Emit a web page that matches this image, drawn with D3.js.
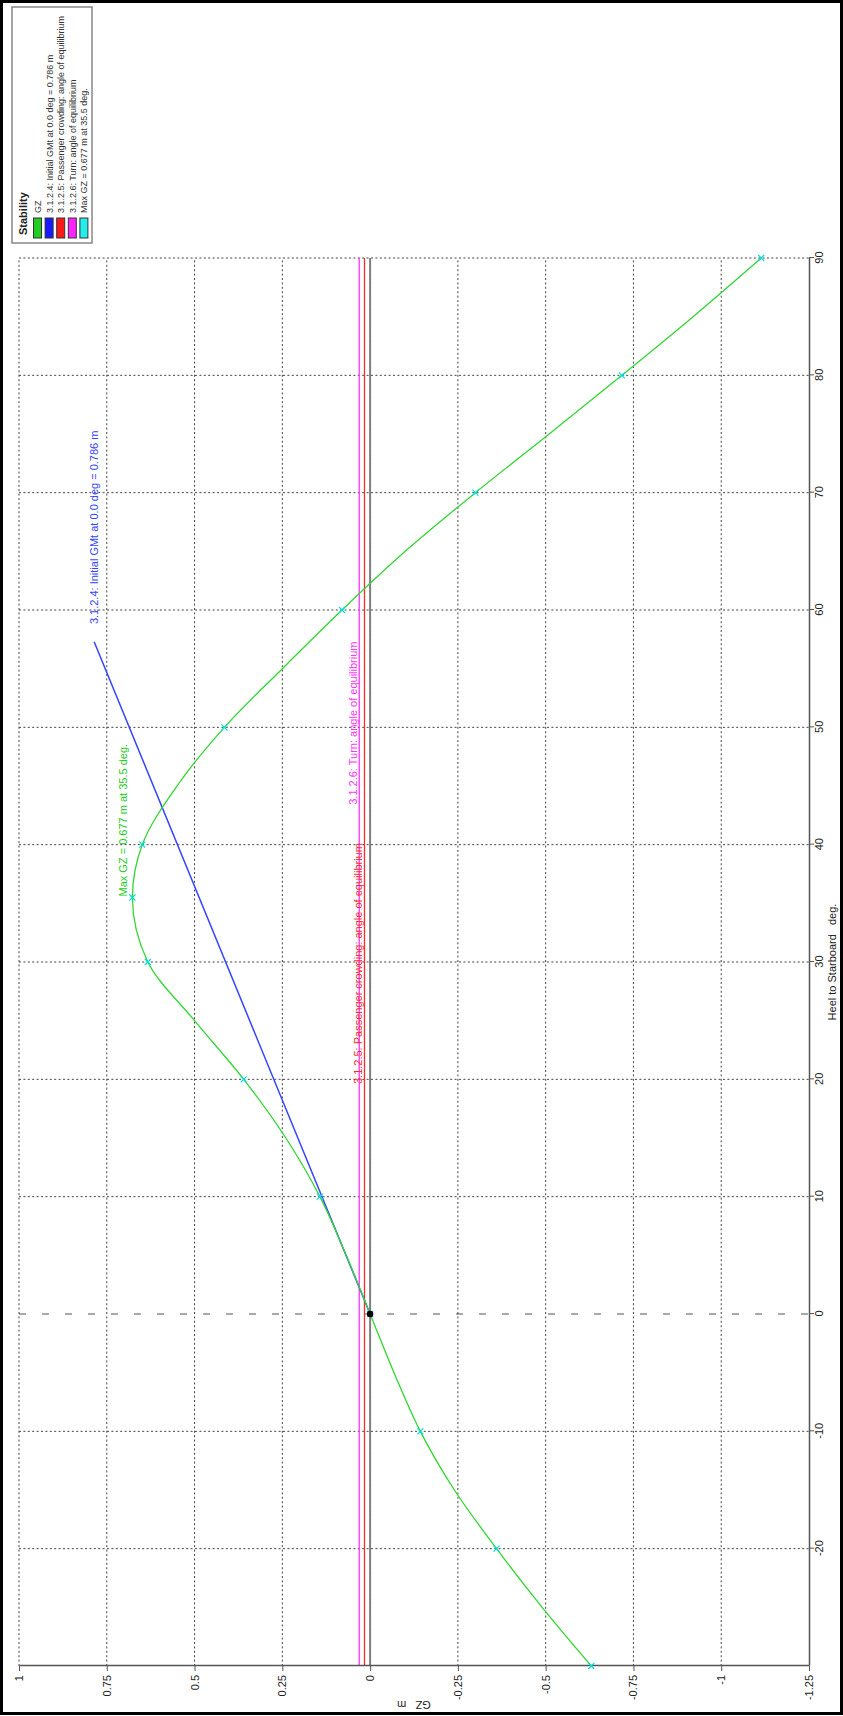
<!DOCTYPE html>
<html><head><meta charset="utf-8">
<script src="https://cdn.jsdelivr.net/npm/d3@7"></script>
<style>
body{margin:0;background:#fff}
svg{display:block}
text{font-family:Arial,"Liberation Sans",sans-serif}
</style>
</head><body><div id="chart"></div>
<script>
// ---- data ----
const heelTicks = [-20,-10,0,10,20,30,40,50,60,70,80,90];
const heelTickLabels = ["-20","-10","0","10","20","30","40","50","60","70","80","90"];
const gzTicks = [1,0.75,0.5,0.25,0,-0.25,-0.5,-0.75,-1,-1.25];
const gzTickLabels = ["1","0.75","0.5","0.25","0","-0.25","-0.5","-0.75","-1","-1.25"];

const heelDeg = [-30,-25,-20,-15,-10,-5,0,5,10,15,20,25,30,35.5,40,45,50,55,60,65,70,75,80,85,90];
const gzValues = [-0.63,-0.49,-0.36,-0.24,-0.143,-0.068,0,0.068,0.143,0.24,0.36,0.50,0.633,0.677,0.649,0.55,0.415,0.25,0.08,-0.10,-0.30,-0.51,-0.717,-0.92,-1.114];

const markerHeel = [-30,-20,-10,0,10,20,30,40,50,60,70,80,90];

const gmHeel = [0,57.3];
const gmGZ = [0,0.786];
const passengerArm = 0.016;
const turnArm = 0.031;
const maxPoint = [35.5,0.677];

const legendLabels = ["GZ","3.1.2.4: Initial GMt at 0.0 deg = 0.786 m","3.1.2.5: Passenger crowding: angle of equilibrium","3.1.2.6: Turn: angle of equilibrium","Max GZ = 0.677 m at 35.5 deg."];
const legendColors = ["#22cc22","#1a1aff","#ff1a1a","#ff22ff","#22eeee"];

// ---- drawing ----
const PW = 843, PH = 1716;
const svg = d3.select("#chart").append("svg").attr("width",PW).attr("height",PH);
svg.append("rect").attr("width",PW).attr("height",PH).attr("fill","#fff");

// chart is drawn in landscape, then rotated -90deg
const g = svg.append("g").attr("transform",`translate(0,${PH}) rotate(-90)`);

const x = d3.scaleLinear().domain([-30,90]).range([50,1458]);
const y = d3.scaleLinear().domain([-1.25,1]).range([809,19]);

// grid
g.selectAll(".vg").data(heelTicks.filter(d=>d!==0)).join("line")
  .attr("x1",d=>x(d)).attr("x2",d=>x(d)).attr("y1",y(1)).attr("y2",y(-1.25))
  .attr("stroke","#444").attr("stroke-width",1).attr("stroke-dasharray","2,2.4");
g.append("line").attr("x1",x(0)).attr("x2",x(0)).attr("y1",y(1)).attr("y2",y(-1.25))
  .attr("stroke","#555").attr("stroke-width",1.2).attr("stroke-dasharray","7,16");
g.selectAll(".hg").data(gzTicks.filter(d=>d!==-1.25)).join("line")
  .attr("x1",x(-30)).attr("x2",x(90)).attr("y1",d=>y(d)).attr("y2",d=>y(d))
  .attr("stroke","#444").attr("stroke-width",1).attr("stroke-dasharray","2,2.4");

// zero line and heeling arms
g.append("line").attr("x1",x(-30)).attr("x2",x(90)).attr("y1",y(0)).attr("y2",y(0))
  .attr("stroke","#808080").attr("stroke-width",2);
g.append("line").attr("x1",x(-30)).attr("x2",x(90)).attr("y1",y(passengerArm)).attr("y2",y(passengerArm))
  .attr("stroke","#ff2a2a").attr("stroke-width",1.3);
g.append("line").attr("x1",x(-30)).attr("x2",x(90)).attr("y1",y(turnArm)).attr("y2",y(turnArm))
  .attr("stroke","#ff33ff").attr("stroke-width",1.3);

// axes
const xAxis = d3.axisBottom(x).tickValues(heelTicks).tickSize(5).tickSizeOuter(0).tickPadding(1)
  .tickFormat((d,i)=>heelTickLabels[i]);
const xa = g.append("g").attr("transform",`translate(0,${y(-1.25)})`).call(xAxis);
const yAxis = d3.axisLeft(y).tickValues(gzTicks).tickSize(5).tickSizeOuter(0).tickPadding(4)
  .tickFormat((d,i)=>gzTickLabels[i]);
const ya = g.append("g").attr("transform",`translate(${x(-30)},0)`).call(yAxis);
[xa,ya].forEach(a=>{
  a.select(".domain").attr("stroke","#555").attr("stroke-width",1.5);
  a.selectAll(".tick line").attr("stroke","#555");
  a.selectAll("text").attr("font-size",11).attr("fill","#222").attr("font-family","Arial, 'Liberation Sans', sans-serif");
});

// axis titles
g.append("text").attr("x",x(30)).attr("y",836).attr("text-anchor","middle")
  .attr("font-size",11).attr("fill","#222").style("white-space","pre").text("Heel to Starboard   deg.");
g.append("text").attr("transform",`translate(15,${(y(1)+y(-1.25))/2}) rotate(-90)`).attr("text-anchor","middle")
  .attr("font-size",11).attr("fill","#222").style("white-space","pre").text("GZ   m");

// GM line
g.append("line").attr("x1",x(gmHeel[0])).attr("y1",y(gmGZ[0])).attr("x2",x(gmHeel[1])).attr("y2",y(gmGZ[1]))
  .attr("stroke","#3344ff").attr("stroke-width",1.5);

// GZ curve
const pts = heelDeg.map((h,i)=>[h,gzValues[i]]);
const line = d3.line().x(d=>x(d[0])).y(d=>y(d[1])).curve(d3.curveMonotoneX);
g.append("path").datum(pts).attr("d",line).attr("fill","none").attr("stroke","#33d633").attr("stroke-width",1.3);

// markers
const gzAt = h => gzValues[heelDeg.indexOf(h)];
g.selectAll(".mk").data(markerHeel.concat([maxPoint[0]])).join("path")
  .attr("d",d=>{const cx=x(d), cy=y(d===maxPoint[0]?maxPoint[1]:gzAt(d)); return `M${cx-3},${cy-3}L${cx+3},${cy+3}M${cx-3},${cy+3}L${cx+3},${cy-3}`;})
  .attr("stroke","#00dede").attr("stroke-width",1.2);
g.append("circle").attr("cx",x(0)).attr("cy",y(0)).attr("r",3.2).attr("fill","#000");

// curve labels
g.append("text").attr("x",x(58.8)).attr("y",y(gmGZ[1])+4).attr("font-size",11).attr("fill","#3344ff").text(legendLabels[1]);
g.append("text").attr("x",x(maxPoint[0])+1).attr("y",y(maxPoint[1])-5).attr("font-size",11).attr("fill","#22cc22").text(legendLabels[4]);
g.append("text").attr("x",x(19.6)).attr("y",y(passengerArm)-2).attr("font-size",11).attr("fill","#ff2a2a").text(legendLabels[2]);
g.append("text").attr("x",x(43.4)).attr("y",y(turnArm)-2).attr("font-size",11).attr("fill","#ff33ff").text(legendLabels[3]);

// legend
const lg = g.append("g").attr("transform","translate(1473,12)");
lg.append("rect").attr("x",0).attr("y",0).attr("width",236).attr("height",80).attr("fill","#fff")
  .attr("stroke","#888").attr("stroke-width",1.5);
lg.append("text").attr("x",8).attr("y",15).attr("font-size",11).attr("font-weight","bold").attr("fill","#222").text("Stability");
const rows = lg.selectAll(".row").data(legendLabels).join("g").attr("transform",(d,i)=>`translate(5,${21.5+i*11.6})`);
rows.append("rect").attr("x",0).attr("y",0).attr("width",20).attr("height",8)
  .attr("fill",(d,i)=>legendColors[i]).attr("stroke","#333").attr("stroke-width",1);
rows.append("text").attr("x",25).attr("y",7.5).attr("font-size",9).attr("fill","#333").text(d=>d);

// outer frame
svg.append("rect").attr("x",1.5).attr("y",1.5).attr("width",PW-3).attr("height",PH-4)
  .attr("fill","none").attr("stroke","#000").attr("stroke-width",3);
</script></body></html>
